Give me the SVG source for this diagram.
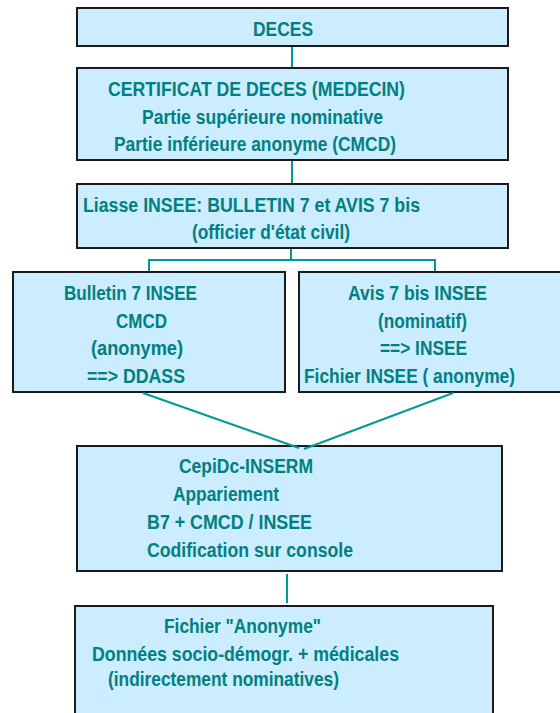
<svg xmlns="http://www.w3.org/2000/svg" width="560" height="713" viewBox="0 0 560 713">
<style>
.box{fill:#CCECFF;stroke:#1a1a1a;stroke-width:2}
.t{font-family:"Liberation Sans Narrow","Liberation Sans",Arial,sans-serif;font-size:21px;font-weight:bold;fill:#008080}
.c{stroke:#009999;stroke-width:2;fill:none}
</style>
<rect width="560" height="713" fill="#ffffff"/>
<g id="n1">
<rect class="box" x="77" y="8" width="431" height="38"/>
<text class="t" x="253" y="36" textLength="60" lengthAdjust="spacingAndGlyphs">DECES</text>
</g>
<g id="n2">
<rect class="box" x="77" y="68" width="431" height="92"/>
<text class="t" x="108" y="96" textLength="297" lengthAdjust="spacingAndGlyphs">CERTIFICAT DE DECES (MEDECIN)</text>
<text class="t" x="142" y="124" textLength="241" lengthAdjust="spacingAndGlyphs">Partie supérieure nominative</text>
<text class="t" x="114" y="151" textLength="282" lengthAdjust="spacingAndGlyphs">Partie inférieure anonyme (CMCD)</text>
</g>
<g id="n3">
<rect class="box" x="77" y="184" width="431" height="64"/>
<text class="t" x="83" y="212" textLength="337" lengthAdjust="spacingAndGlyphs">Liasse INSEE: BULLETIN 7 et AVIS 7 bis</text>
<text class="t" x="192" y="239" textLength="158" lengthAdjust="spacingAndGlyphs">(officier d'état civil)</text>
</g>
<g id="n4">
<rect class="box" x="13" y="272" width="272" height="120"/>
<text class="t" x="64" y="300" textLength="133" lengthAdjust="spacingAndGlyphs">Bulletin 7 INSEE</text>
<text class="t" x="116" y="328" textLength="51" lengthAdjust="spacingAndGlyphs">CMCD</text>
<text class="t" x="91" y="355" textLength="92" lengthAdjust="spacingAndGlyphs">(anonyme)</text>
<text class="t" x="87" y="383" textLength="98" lengthAdjust="spacingAndGlyphs">==&gt; DDASS</text>
</g>
<g id="n5">
<rect class="box" x="299" y="272" width="275" height="120"/>
<text class="t" x="348" y="300" textLength="139" lengthAdjust="spacingAndGlyphs">Avis 7 bis INSEE</text>
<text class="t" x="378" y="328" textLength="89" lengthAdjust="spacingAndGlyphs">(nominatif)</text>
<text class="t" x="380" y="355" textLength="87" lengthAdjust="spacingAndGlyphs">==&gt; INSEE</text>
<text class="t" x="304" y="383" textLength="211" lengthAdjust="spacingAndGlyphs">Fichier INSEE ( anonyme)</text>
</g>
<g id="n6">
<rect class="box" x="77" y="446" width="425" height="125"/>
<text class="t" x="179" y="473" textLength="134" lengthAdjust="spacingAndGlyphs">CepiDc-INSERM</text>
<text class="t" x="173" y="501" textLength="106" lengthAdjust="spacingAndGlyphs">Appariement</text>
<text class="t" x="147" y="529" textLength="165" lengthAdjust="spacingAndGlyphs">B7 + CMCD / INSEE</text>
<text class="t" x="147" y="557" textLength="206" lengthAdjust="spacingAndGlyphs">Codification sur console</text>
</g>
<g id="n7">
<rect class="box" x="75" y="606" width="418" height="120"/>
<text class="t" x="164" y="633" textLength="157" lengthAdjust="spacingAndGlyphs">Fichier "Anonyme"</text>
<text class="t" x="92" y="661" textLength="307" lengthAdjust="spacingAndGlyphs">Données socio-démogr. + médicales</text>
<text class="t" x="108" y="686" textLength="231" lengthAdjust="spacingAndGlyphs">(indirectement nominatives)</text>
</g>
<g id="connectors">
<line class="c" x1="292" y1="47" x2="292" y2="67"/>
<line class="c" x1="292" y1="161" x2="292" y2="183"/>
<line class="c" x1="291" y1="249" x2="291" y2="260"/>
<polyline class="c" points="149,271 149,260 435,260 435,271"/>
<line class="c" x1="143" y1="393" x2="299" y2="448"/>
<line class="c" x1="453" y1="393" x2="304" y2="449"/>
<line class="c" x1="287" y1="574" x2="287" y2="603"/>
</g>
</svg>
